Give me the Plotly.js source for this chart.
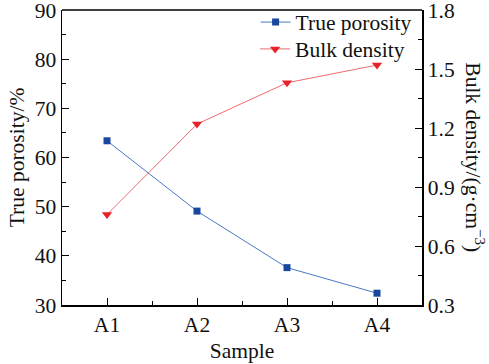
<!DOCTYPE html>
<html><head><meta charset="utf-8">
<script src="https://cdn.plot.ly/plotly-3.0.1.min.js"></script>
<style>html,body{margin:0;padding:0;background:#fff}</style>
</head><body><div id="chart" style="width:489px;height:364px"></div>
<script>
var samples = ['A1','A2','A3','A4'];
var truePorosity = [63.4, 49.1, 37.6, 32.4];
var bulkDensity = [0.76, 1.22, 1.43, 1.52];
var yTicks = [30,40,50,60,70,80,90];
var y2Ticks = [0.3,0.6,0.9,1.2,1.5,1.8];

var F = 'Liberation Serif, Times New Roman, serif';
var FS = 21.5;
var traces = [
  {x: samples, y: truePorosity, name: 'True porosity', type: 'scatter', mode: 'lines+markers', legend: 'legend',
   line: {color: '#4a78c4', width: 1}, marker: {symbol: 'square', size: 7, color: '#1a479e'}},
  {x: samples, y: bulkDensity, name: 'Bulk density', type: 'scatter', mode: 'lines+markers', yaxis: 'y2', legend: 'legend2',
   line: {color: '#f06a6e', width: 1}, marker: {symbol: 'triangle-down', size: 9, color: '#e8202a'}},
  {x: [0], y: [null], xaxis: 'x2', showlegend: false, hoverinfo: 'skip'}
];
var legBase = {xanchor: 'right', yanchor: 'middle', bgcolor: 'rgba(0,0,0,0)',
               font: {family: F, size: FS, color: '#111'}, itemwidth: 30};
var layout = {
  width: 489, height: 364,
  margin: {l: 62, r: 67, t: 10, b: 59, autoexpand: false},
  paper_bgcolor: '#fff', plot_bgcolor: '#fff',
  font: {family: F, size: FS, color: '#111'},
  showlegend: true,
  legend: Object.assign({x: 0.985, y: 0.959}, legBase),
  legend2: Object.assign({x: 0.967, y: 0.868}, legBase),
  xaxis: {type: 'category', range: [-0.5, 3.5], showgrid: false, zeroline: false,
          showline: true, linecolor: '#000', linewidth: 1.5,
          ticks: 'inside', ticklen: 7, tickcolor: '#000', tickwidth: 1,
          tickfont: {family: F, size: FS}, title: {text: 'Sample', font: {family: F, size: FS}, standoff: 6}},
  xaxis2: {overlaying: 'x', range: [-0.5, 3.5], tickvals: [0.5, 1.5, 2.5], showticklabels: false,
           ticks: 'inside', ticklen: 4, tickcolor: '#000', showgrid: false, zeroline: false, showline: false},
  yaxis: {range: [30, 90], tickvals: yTicks, showgrid: false, zeroline: false,
          showline: true, linecolor: '#000', linewidth: 1.5, ticklabeloverflow: 'allow',
          ticks: 'inside', ticklen: 7, tickcolor: '#000',
          minor: {dtick: 5, ticks: 'inside', ticklen: 4, tickcolor: '#000', showgrid: false},
          tickfont: {family: F, size: FS},
          title: {text: 'True porosity/%', font: {family: F, size: FS}, standoff: 4}},
  yaxis2: {range: [0.3, 1.8], tickvals: y2Ticks, overlaying: 'y', side: 'right', showgrid: false, zeroline: false,
           showline: true, linecolor: '#000', linewidth: 1.5, ticklabeloverflow: 'allow',
           ticks: 'inside', ticklen: 7, tickcolor: '#000', tickformat: '.1f',
           minor: {dtick: 0.15, ticks: 'inside', ticklen: 4, tickcolor: '#000', showgrid: false},
           tickfont: {family: F, size: FS}},
  shapes: [{type: 'line', xref: 'paper', yref: 'paper', x0: 0, x1: 1, y0: 1, y1: 1,
            line: {color: '#000', width: 1.5}}],
  annotations: [{text: 'Bulk density/(g·cm<sup>−3</sup>)', xref: 'paper', yref: 'paper', x: 1.145, y: 0.5,
                 xanchor: 'center', yanchor: 'middle', textangle: 90, showarrow: false,
                 font: {family: F, size: FS, color: '#111'}}]
};
Plotly.newPlot('chart', traces, layout, {displayModeBar: false, staticPlot: true});
</script></body></html>
